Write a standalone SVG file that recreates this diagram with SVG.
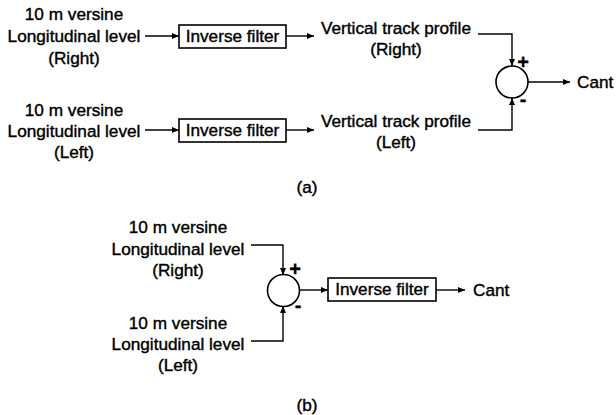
<svg xmlns="http://www.w3.org/2000/svg" width="616" height="415" viewBox="0 0 616 415">
<defs>
<marker id="ah" markerWidth="8" markerHeight="6" refX="7" refY="3" orient="auto" markerUnits="userSpaceOnUse">
<path d="M0,0 L7,3 L0,6 Z" fill="#000"/>
</marker>
<style>
text{font-family:"Liberation Sans",Arial,sans-serif;font-size:17.2px;fill:#000;stroke:#000;stroke-width:0.4;text-anchor:middle}
.st{text-anchor:start}
.sg{font-weight:bold;font-size:20px;stroke-width:0.3}
.ln{fill:none;stroke:#000;stroke-width:1.4}
.bx{fill:#fff;stroke:#000;stroke-width:1.6}
</style>
</defs>
<rect width="616" height="415" fill="#fff"/>
<g id="connectors">
<line class="ln" x1="145" y1="36" x2="179" y2="36" marker-end="url(#ah)"/>
<line class="ln" x1="286" y1="36" x2="314" y2="36" marker-end="url(#ah)"/>
<line class="ln" x1="145" y1="130" x2="179" y2="130" marker-end="url(#ah)"/>
<line class="ln" x1="286" y1="130" x2="314" y2="130" marker-end="url(#ah)"/>
<polyline class="ln" points="478,34 512,34 512,66" marker-end="url(#ah)"/>
<polyline class="ln" points="478,130 512,130 512,98" marker-end="url(#ah)"/>
<line class="ln" x1="528" y1="82" x2="570" y2="82" marker-end="url(#ah)"/>
<polyline class="ln" points="251,245 283,245 283,275" marker-end="url(#ah)"/>
<polyline class="ln" points="251,341 283,341 283,306" marker-end="url(#ah)"/>
<line class="ln" x1="299" y1="290" x2="328" y2="290" marker-end="url(#ah)"/>
<line class="ln" x1="436" y1="290" x2="465" y2="290" marker-end="url(#ah)"/>
</g>
<g id="a-in-right"><text x="74" y="20">10 m versine</text><text x="74" y="42">Longitudinal level</text><text x="74" y="64">(Right)</text></g>
<g id="a-filter-right"><rect class="bx" x="179" y="25" width="107" height="23"/><text x="232.5" y="42">Inverse filter</text></g>
<g id="a-vtp-right"><text x="396" y="34">Vertical track profile</text><text x="396" y="55">(Right)</text></g>
<g id="a-in-left"><text x="74" y="116">10 m versine</text><text x="74" y="137">Longitudinal level</text><text x="74" y="158">(Left)</text></g>
<g id="a-filter-left"><rect class="bx" x="179" y="119" width="107" height="23"/><text x="232.5" y="136">Inverse filter</text></g>
<g id="a-vtp-left"><text x="396" y="127">Vertical track profile</text><text x="396" y="148">(Left)</text></g>
<g id="a-sum"><circle class="bx" cx="512" cy="82" r="16"/><text class="sg" x="523" y="69">+</text><text class="sg" x="523" y="106">-</text></g>
<g id="a-cant"><text class="st" x="577" y="88">Cant</text></g>
<text x="307" y="193">(a)</text>
<g id="b-in-right"><text x="178" y="233">10 m versine</text><text x="178" y="255">Longitudinal level</text><text x="178" y="276">(Right)</text></g>
<g id="b-in-left"><text x="178" y="329">10 m versine</text><text x="178" y="350">Longitudinal level</text><text x="178" y="371">(Left)</text></g>
<g id="b-sum"><circle class="bx" cx="283.5" cy="290.5" r="16"/><text class="sg" x="295" y="276">+</text><text class="sg" x="298" y="312">-</text></g>
<g id="b-filter"><rect class="bx" x="328" y="278" width="108" height="23"/><text x="382" y="295">Inverse filter</text></g>
<g id="b-cant"><text class="st" x="473" y="296">Cant</text></g>
<text x="307" y="411">(b)</text>
</svg>
